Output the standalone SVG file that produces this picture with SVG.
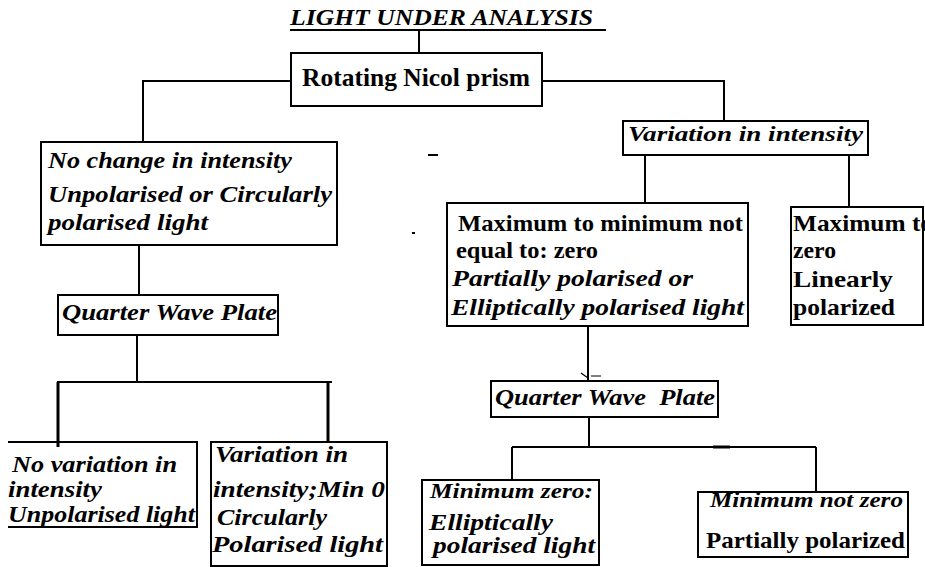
<svg xmlns="http://www.w3.org/2000/svg" width="925" height="567" viewBox="0 0 925 567">
<style>
.box{fill:#fff;stroke:#000;stroke-width:2}
.ln{fill:none;stroke:#000;stroke-width:2}
.thin{fill:none;stroke:#000;stroke-width:1.2}
.thick{fill:none;stroke:#000;stroke-width:3}
text{font-family:"Liberation Serif","Times New Roman",serif;font-weight:bold;fill:#000;font-size:23px}
.it{font-style:italic}
.s20{font-size:21px}
.s24{font-size:25px}
</style>
<rect width="925" height="567" fill="#fff"/>
<g id="connectors">
<path class="ln" d="M419,30 V53"/>
<path class="ln" d="M291,81 H143 V142"/>
<path class="ln" d="M139,245 V295"/>
<path class="ln" d="M137,335 V382"/>
<path class="ln" d="M57,382 H332"/>
<path class="thick" d="M58,382 V447"/>
<path class="thick" d="M328,382 V442"/>
<path class="ln" d="M542,81 H724 V121"/>
<path class="ln" d="M645,155 V203"/>
<path class="ln" d="M849,155 V207"/>
<path class="ln" d="M588,326 V381"/>
<path class="thin" d="M581,373 L588,378 M591,376 H601"/>
<path class="ln" d="M589,417 V447"/>
<path class="ln" d="M512,447 H816"/>
<path class="thick" d="M713,447 H730"/>
<path class="ln" d="M512,447 V480"/>
<path class="ln" d="M816,447 V492"/>
<path class="ln" d="M428,155 H438"/>
<path class="ln" d="M412,233 H415"/>
</g>
<g id="title">
<text class="it" x="290" y="25" textLength="303" lengthAdjust="spacingAndGlyphs">LIGHT UNDER ANALYSIS</text>
<path class="ln" d="M290,30 H606"/>
</g>
<g id="nicol">
<rect class="box" x="291" y="53" width="251" height="53"/>
<text class="s24" x="302" y="86" textLength="228" lengthAdjust="spacingAndGlyphs">Rotating Nicol prism</text>
</g>
<g id="nochange">
<rect class="box" x="41" y="142" width="296" height="103"/>
<text class="it" x="48" y="168" textLength="244" lengthAdjust="spacingAndGlyphs">No change in intensity</text>
<text class="it" x="48" y="202" textLength="284" lengthAdjust="spacingAndGlyphs">Unpolarised or Circularly</text>
<text class="it" x="48" y="230" textLength="160" lengthAdjust="spacingAndGlyphs">polarised light</text>
</g>
<g id="qwp1">
<rect class="box" x="58" y="295" width="220" height="40"/>
<text class="it" x="62" y="320" textLength="215" lengthAdjust="spacingAndGlyphs">Quarter Wave Plate</text>
</g>
<g id="novariation">
<path class="ln" d="M8,442 H197 V527 H8"/>
<text class="it" x="12" y="472" textLength="165" lengthAdjust="spacingAndGlyphs">No variation in</text>
<text class="it" x="8" y="497" textLength="94" lengthAdjust="spacingAndGlyphs">intensity</text>
<text class="it" x="8" y="522" textLength="187" lengthAdjust="spacingAndGlyphs">Unpolarised light</text>
</g>
<g id="variationmin">
<rect class="box" x="211" y="442" width="176" height="124"/>
<text class="it" x="215" y="462" textLength="133" lengthAdjust="spacingAndGlyphs">Variation in</text>
<text class="it" x="213" y="497" textLength="172" lengthAdjust="spacingAndGlyphs">intensity;Min 0</text>
<text class="it" x="217" y="525" textLength="110" lengthAdjust="spacingAndGlyphs">Circularly</text>
<text class="it" x="212" y="552" textLength="171" lengthAdjust="spacingAndGlyphs">Polarised light</text>
</g>
<g id="variation">
<rect class="box" x="623" y="121" width="245" height="34"/>
<text class="it s20" x="628" y="141" textLength="235" lengthAdjust="spacingAndGlyphs">Variation in intensity</text>
</g>
<g id="maxmin">
<rect class="box" x="447" y="203" width="301" height="123"/>
<text x="458" y="231" textLength="285" lengthAdjust="spacingAndGlyphs">Maximum to minimum not</text>
<text x="456" y="258" textLength="142" lengthAdjust="spacingAndGlyphs">equal to: zero</text>
<text class="it" x="452" y="286" textLength="241" lengthAdjust="spacingAndGlyphs">Partially polarised or</text>
<text class="it" x="451" y="315" textLength="293" lengthAdjust="spacingAndGlyphs">Elliptically polarised light</text>
</g>
<g id="linear">
<rect class="box" x="791" y="207" width="132" height="118"/>
<text x="793" y="231" textLength="140" lengthAdjust="spacingAndGlyphs">Maximum to</text>
<text x="793" y="258" textLength="43" lengthAdjust="spacingAndGlyphs">zero</text>
<text x="793" y="287" textLength="100" lengthAdjust="spacingAndGlyphs">Linearly</text>
<text x="793" y="315" textLength="102" lengthAdjust="spacingAndGlyphs">polarized</text>
</g>
<g id="qwp2">
<rect class="box" x="491" y="381" width="227" height="36"/>
<text class="it" x="495" y="405" textLength="220" lengthAdjust="spacingAndGlyphs" xml:space="preserve">Quarter Wave  Plate</text>
</g>
<g id="minzero">
<rect class="box" x="422" y="480" width="177" height="85"/>
<text class="it s20" x="430" y="498" textLength="163" lengthAdjust="spacingAndGlyphs">Minimum zero:</text>
<text class="it" x="429" y="530" textLength="124" lengthAdjust="spacingAndGlyphs">Elliptically</text>
<text class="it" x="433" y="553" textLength="162" lengthAdjust="spacingAndGlyphs">polarised light</text>
</g>
<g id="minnotzero">
<rect class="box" x="698" y="492" width="210" height="65"/>
<text class="it s20" x="710" y="507" textLength="193" lengthAdjust="spacingAndGlyphs">Minimum not zero</text>
<text x="706" y="548" textLength="199" lengthAdjust="spacingAndGlyphs">Partially polarized</text>
</g>
</svg>
